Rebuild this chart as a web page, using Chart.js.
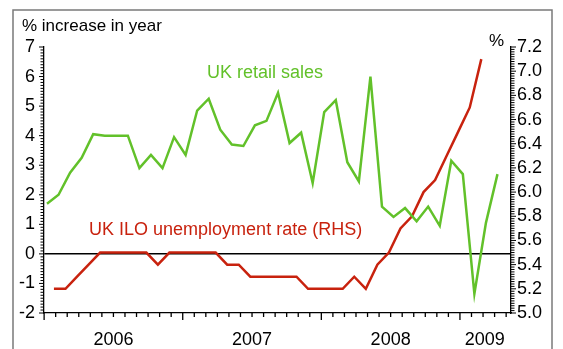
<!DOCTYPE html>
<html>
<head>
<meta charset="utf-8">
<script src="https://cdn.jsdelivr.net/npm/chart.js@4.4.0/dist/chart.umd.min.js"></script>
<style>
  html, body { margin: 0; padding: 0; background: #fff; }
  #wrap { width: 563px; height: 349px; }
</style>
</head>
<body>
<div id="wrap"><canvas id="salesChart" width="563" height="349"></canvas></div>
<script>
// Monthly figures, index 0 = Jan 2006
const retailSales = [1.7, 2.0, 2.75, 3.25, 4.05, 4.0, 4.0, 4.0, 2.9, 3.35, 2.9, 3.95,
                     3.35, 4.85, 5.25, 4.2, 3.7, 3.65, 4.35, 4.5, 5.45, 3.75, 4.1, 2.4,
                     4.8, 5.2, 3.1, 2.45, 6.0, 1.6, 1.25, 1.55, 1.1, 1.6, 0.95, 3.15,
                     2.7, -1.35, 1.05, 2.7];
const iloUnemployment = [5.2, 5.2, 5.3, 5.4, 5.5, 5.5, 5.5, 5.5, 5.5, 5.4, 5.5, 5.5,
                         5.5, 5.5, 5.5, 5.4, 5.4, 5.3, 5.3, 5.3, 5.3, 5.3, 5.2, 5.2,
                         5.2, 5.2, 5.3, 5.2, 5.4, 5.5, 5.7, 5.8, 6.0, 6.1, 6.3, 6.5,
                         6.7, 7.1];
const iloShift = 0.6; // ILO figures sit later in each month than retail sales

const yearLabels = ['2006', '2007', '2008', '2009'];
const yearCentres = [5.75, 17.75, 29.75, 37.9];
const monthRange = { min: -0.26, max: 40.17 };
const leftTicks = { min: -2, max: 7, step: 1, minor: 0.1 };
const rightTicks = { min: 5.0, max: 7.2, step: 0.2, minor: 0.02 };

const GREEN = '#62C12A';
const RED = '#C8220E';
const FONT = 'Liberation Sans, Arial, sans-serif';

// tick combs, frame and captions
const axisDecor = {
    id: 'axisDecor',
    afterDraw(chart) {
        const { ctx, chartArea, scales } = chart;
        const { x, y, y2 } = scales;
        ctx.save();
        ctx.strokeStyle = '#000';
        ctx.lineWidth = 1.3;
        ctx.lineCap = 'butt';

        // months along the bottom, longer mark at each new year
        ctx.beginPath();
        for (let k = 0; k - 0.25 <= monthRange.max; k++) {
            const px = x.getPixelForValue(k - 0.25);
            const len = k % 12 === 0 ? 7 : 4;
            ctx.moveTo(px, chartArea.bottom);
            ctx.lineTo(px, chartArea.bottom + len);
        }
        ctx.stroke();

        const comb = (scale, t, edge, dir) => {
            const n = Math.round((t.max - t.min) / t.minor);
            const every = Math.round(t.step / t.minor);
            ctx.beginPath();
            for (let i = 0; i <= n; i++) {
                const py = scale.getPixelForValue(t.min + i * t.minor);
                const len = i % every === 0 ? 5 : 3.5;
                ctx.moveTo(edge, py);
                ctx.lineTo(edge + dir * len, py);
            }
            ctx.stroke();
        };
        ctx.lineWidth = 1;
        comb(y, leftTicks, chartArea.left, -1);
        comb(y2, rightTicks, chartArea.right, 1);

        // outer frame
        ctx.strokeStyle = '#7a7a7a';
        ctx.lineWidth = 1.5;
        ctx.strokeRect(13, 10, 539, 400);

        ctx.fillStyle = '#000';
        ctx.textBaseline = 'alphabetic';
        ctx.font = '17px ' + FONT;
        ctx.fillText('% increase in year', 22, 31);
        ctx.fillText('%', 489, 46);

        ctx.font = '18px ' + FONT;
        ctx.fillStyle = GREEN;
        ctx.fillText('UK retail sales', x.getPixelForValue(13.85), y.getPixelForValue(5.96));
        ctx.fillStyle = RED;
        ctx.fillText('UK ILO unemployment rate (RHS)', x.getPixelForValue(3.64), y.getPixelForValue(0.65));
        ctx.restore();
    }
};

function buildChart() {
    const ctx = document.getElementById('salesChart');
    const tickFont = { family: FONT, size: 18 };

    new Chart(ctx, {
        type: 'line',
        data: {
            datasets: [{
                label: 'UK retail sales',
                data: retailSales.map((v, i) => ({ x: i, y: v })),
                borderColor: GREEN,
                borderWidth: 2.5,
                pointRadius: 0,
                yAxisID: 'y'
            }, {
                label: 'UK ILO unemployment rate (RHS)',
                data: iloUnemployment.map((v, i) => ({ x: i + iloShift, y: v })),
                borderColor: RED,
                borderWidth: 2.5,
                pointRadius: 0,
                yAxisID: 'y2'
            }]
        },
        options: {
            responsive: false,
            animation: false,
            devicePixelRatio: 1,
            layout: { padding: { top: 47, bottom: 0, left: 0, right: 0 } },
            plugins: { legend: { display: false }, tooltip: { enabled: false } },
            scales: {
                x: {
                    type: 'linear',
                    min: monthRange.min,
                    max: monthRange.max,
                    afterBuildTicks: s => { s.ticks = yearCentres.map(v => ({ value: v })); },
                    afterFit: s => { s.height = 36; },
                    grid: { display: false, drawTicks: false },
                    border: { display: true, color: '#000', width: 1.3 },
                    ticks: {
                        font: tickFont, color: '#000', padding: 16,
                        autoSkip: false, maxRotation: 0,
                        callback: (v, i) => yearLabels[i]
                    }
                },
                y: {
                    position: 'left',
                    min: leftTicks.min,
                    max: leftTicks.max,
                    afterFit: s => { s.width = 44; },
                    grid: {
                        drawTicks: false,
                        color: c => (c.tick && c.tick.value === 0 ? '#000' : 'rgba(0,0,0,0)'),
                        lineWidth: 1.5
                    },
                    border: { display: true, color: '#000', width: 1.3 },
                    ticks: {
                        stepSize: leftTicks.step, font: tickFont, color: '#000',
                        padding: 9, autoSkip: false
                    }
                },
                y2: {
                    position: 'right',
                    min: rightTicks.min,
                    max: rightTicks.max,
                    afterFit: s => { s.width = 52; },
                    grid: { display: false, drawTicks: false },
                    border: { display: true, color: '#000', width: 1.3 },
                    ticks: {
                        stepSize: rightTicks.step, font: tickFont, color: '#000',
                        padding: 6, autoSkip: false,
                        callback: v => Number(v).toFixed(1)
                    }
                }
            }
        },
        plugins: [axisDecor]
    });
}

document.addEventListener('DOMContentLoaded', buildChart);
</script>
</body>
</html>
